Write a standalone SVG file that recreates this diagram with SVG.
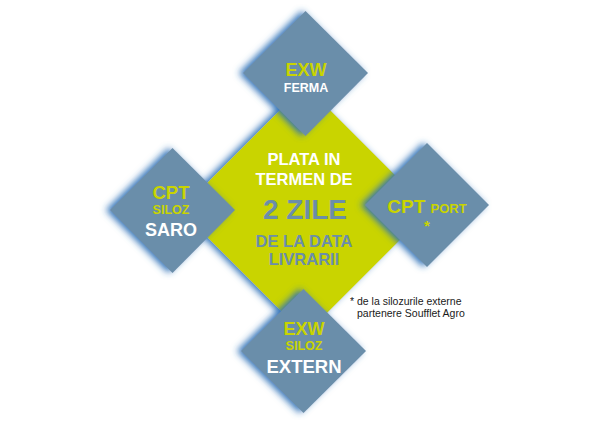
<svg xmlns="http://www.w3.org/2000/svg" width="600" height="429" viewBox="0 0 600 429">
<defs>
<filter id="sh" x="-30%" y="-30%" width="160%" height="160%">
<feGaussianBlur in="SourceAlpha" stdDeviation="3.5"/>
<feOffset dx="-4" dy="0" result="b"/>
<feFlood flood-color="#2f72b8" flood-opacity="1"/>
<feComposite in2="b" operator="in"/>
<feMerge><feMergeNode/><feMergeNode in="SourceGraphic"/></feMerge>
</filter>
</defs>
<style>
text{font-family:"Liberation Sans",Arial,sans-serif;font-weight:bold;text-anchor:middle}
.blue{fill:#6B8EAA}
.green{fill:#C9D400}
.y{fill:#C9D400}
.w{fill:#FFFFFF}
.b{fill:#6B8EAA}
.note{font-weight:normal;text-anchor:start;fill:#1a1a1a;font-size:10.5px}
</style>
<rect width="600" height="429" fill="#FFFFFF"/>
<g id="center">
<polygon class="green" filter="url(#sh)" points="305,85 430,210 305,335 180,210"/>
<text class="w" x="304" y="165" font-size="16.5">PLATA IN</text>
<text class="w" x="304" y="185" font-size="16.5">TERMEN DE</text>
<text class="b" x="305" y="219" font-size="28">2 ZILE</text>
<text class="b" x="304" y="247" font-size="16.5">DE LA DATA</text>
<text class="b" x="304" y="264.5" font-size="16.5">LIVRARII</text>
</g>
<g id="top">
<polygon class="blue" filter="url(#sh)" points="305.5,11 368,73 305.5,136 243,73"/>
<text class="y" x="306" y="76" font-size="18">EXW</text>
<text class="w" x="306" y="92" font-size="12.5">FERMA</text>
</g>
<g id="left">
<polygon class="blue" filter="url(#sh)" points="172.5,148 235,210 172.5,273 110,210"/>
<text class="y" x="171" y="199" font-size="18.5">CPT</text>
<text class="y" x="171" y="214" font-size="12.5">SILOZ</text>
<text class="w" x="171" y="236" font-size="18">SARO</text>
</g>
<g id="right">
<polygon class="blue" filter="url(#sh)" points="427,143 489,205 427,267 365,205"/>
<text class="y" x="427" y="213" font-size="19">CPT <tspan font-size="13">PORT</tspan></text>
<text class="y" x="427" y="231" font-size="15">*</text>
</g>
<g id="bottom">
<polygon class="blue" filter="url(#sh)" points="303.5,289 366,351 303.5,413 241,351"/>
<text class="y" x="304" y="335" font-size="18">EXW</text>
<text class="y" x="304" y="350" font-size="12.5">SILOZ</text>
<text class="w" x="304" y="373" font-size="18.5">EXTERN</text>
</g>
<g id="connectors"/>
<g id="footnote">
<text class="note" x="350" y="305">* de la silozurile externe</text>
<text class="note" x="357" y="317">partenere Soufflet Agro</text>
</g>
</svg>
